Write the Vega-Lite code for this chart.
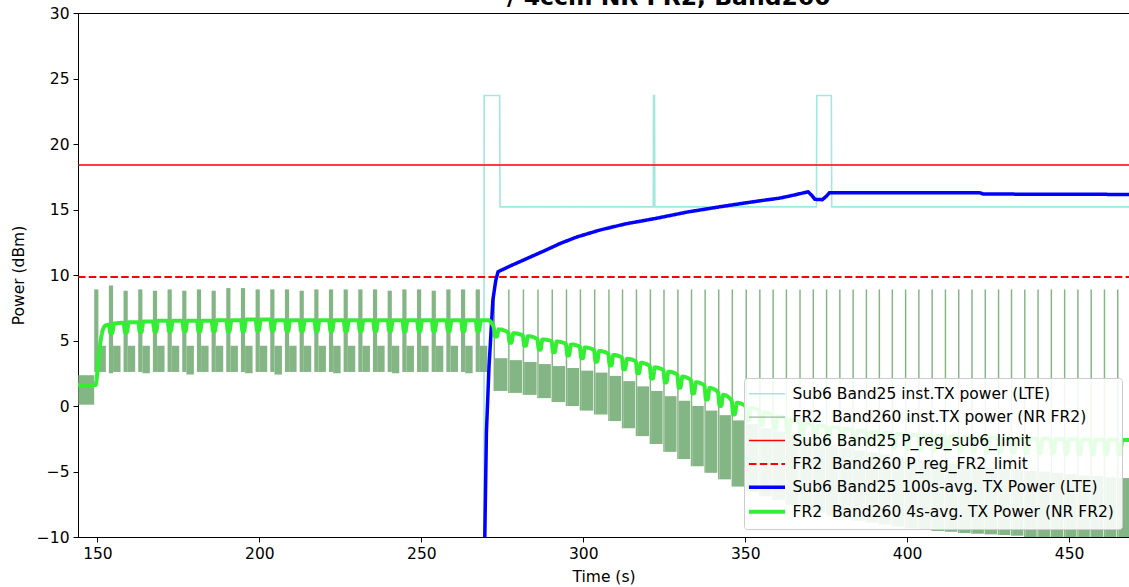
{
"$schema": "https://vega.github.io/schema/vega-lite/v6.json",
"width": 1051, "height": 524,
"autosize": {"type": "none"},
"padding": {"left": 78, "top": 13, "right": 0, "bottom": 50},
"title": {"text": "/ 4ccm NR FR2, Band260", "anchor": "start", "frame": "group", "dx": 429, "dy": 22.5, "fontSize": 23.5, "font": "DejaVu Sans", "fontWeight": "bold", "color": "#000000", "baseline": "alphabetic", "offset": 0},
"config": {
  "view": {"stroke": "#000000", "strokeWidth": 1},
  "axis": {"domainColor": "#000000", "tickColor": "#000000", "labelColor": "#000000", "titleColor": "#000000", "labelFont": "DejaVu Sans", "titleFont": "DejaVu Sans", "labelFontSize": 15.5, "titleFontSize": 15.5, "titleFontWeight": "normal", "tickSize": 5, "labelPadding": 4, "grid": false},
  "axisX": {"titlePadding": 8},
  "axisY": {"titlePadding": 10},
  "legend": {"orient": "none", "legendX": 666, "legendY": 365, "fillColor": "rgba(255,255,255,0.88)", "strokeColor": "#cccccc", "cornerRadius": 3, "padding": 8, "labelFont": "DejaVu Sans", "labelFontSize": 15.5, "labelColor": "#000000", "symbolSize": 256, "symbolType": "stroke", "labelOffset": 25, "rowPadding": 6.4, "labelLimit": 500}
},
"datasets": {
  "cyan": [{"t":144,"v":-40},{"t":269.3,"v":-40},{"t":269.4,"v":23.7},{"t":274.2,"v":23.7},{"t":274.3,"v":15.2},{"t":321.6,"v":15.2},{"t":321.7,"v":23.7},{"t":322.0,"v":23.7},{"t":322.1,"v":15.2},{"t":372.0,"v":15.2},{"t":372.1,"v":23.7},{"t":376.6,"v":23.7},{"t":376.7,"v":15.2},{"t":468.5,"v":15.2}],
  "red1": [{"t":144,"v":18.4},{"t":468.5,"v":18.4}],
  "red2": [{"t":144,"v":9.85},{"t":468.5,"v":9.85}],
  "blue": [{"t":269.4,"v":-40},{"t":269.6,"v":-10},{"t":270.1,"v":-2.0},{"t":270.9,"v":3.0},{"t":272.1,"v":8.1},{"t":273.0,"v":9.6},{"t":273.7,"v":10.25},{"t":278,"v":10.75},{"t":283,"v":11.3},{"t":288,"v":11.85},{"t":292.8,"v":12.4},{"t":298,"v":12.9},{"t":305.1,"v":13.43},{"t":313,"v":13.9},{"t":322.6,"v":14.33},{"t":332,"v":14.8},{"t":342,"v":15.2},{"t":350,"v":15.5},{"t":355,"v":15.68},{"t":360.7,"v":15.87},{"t":365,"v":16.1},{"t":369.4,"v":16.35},{"t":370.5,"v":16.1},{"t":371.5,"v":15.78},{"t":373.8,"v":15.75},{"t":375,"v":16.0},{"t":376,"v":16.28},{"t":422.4,"v":16.28},{"t":423.5,"v":16.18},{"t":468.5,"v":16.15}],
  "green": [
{"t":144,"v":1.6},{"t":149.4,"v":1.6},{"t":150.0,"v":2.6},{"t":150.6,"v":4.2},{"t":151.2,"v":5.3},{"t":151.8,"v":5.9},{"t":152.6,"v":6.15},
{"t":153.53,"v":6.2},{"t":154.03,"v":5.55},{"t":154.53,"v":5.55},{"t":155.13,"v":6.3},
{"t":158.06,"v":6.35},{"t":158.56,"v":5.6},{"t":159.06,"v":5.6},{"t":159.66,"v":6.4},
{"t":162.59,"v":6.4},{"t":163.09,"v":5.65},{"t":163.59,"v":5.65},{"t":164.19,"v":6.45},
{"t":167.12,"v":6.45},{"t":167.62,"v":5.68},{"t":168.12,"v":5.68},{"t":168.72,"v":6.5},
{"t":171.65,"v":6.5},{"t":172.15,"v":5.7},{"t":172.65,"v":5.7},{"t":173.25,"v":6.5},
{"t":176.18,"v":6.5},{"t":176.68,"v":5.7},{"t":177.18,"v":5.7},{"t":177.78,"v":6.5},
{"t":180.71,"v":6.5},{"t":181.21,"v":5.7},{"t":181.71,"v":5.7},{"t":182.31,"v":6.5},
{"t":185.24,"v":6.5},{"t":185.74,"v":5.7},{"t":186.24,"v":5.7},{"t":186.84,"v":6.55},
{"t":189.77,"v":6.55},{"t":190.27,"v":5.72},{"t":190.77,"v":5.72},{"t":191.37,"v":6.55},
{"t":194.3,"v":6.55},{"t":194.8,"v":5.72},{"t":195.3,"v":5.72},{"t":195.9,"v":6.6},
{"t":198.83,"v":6.6},{"t":199.33,"v":5.75},{"t":199.83,"v":5.75},{"t":200.43,"v":6.6},
{"t":203.36,"v":6.6},{"t":203.86,"v":5.75},{"t":204.36,"v":5.75},{"t":204.96,"v":6.55},
{"t":207.89,"v":6.55},{"t":208.39,"v":5.72},{"t":208.89,"v":5.72},{"t":209.49,"v":6.55},
{"t":212.42,"v":6.55},{"t":212.92,"v":5.72},{"t":213.42,"v":5.72},{"t":214.02,"v":6.55},
{"t":216.95,"v":6.55},{"t":217.45,"v":5.72},{"t":217.95,"v":5.72},{"t":218.55,"v":6.55},
{"t":221.48,"v":6.55},{"t":221.98,"v":5.72},{"t":222.48,"v":5.72},{"t":223.08,"v":6.55},
{"t":226.01,"v":6.55},{"t":226.51,"v":5.72},{"t":227.01,"v":5.72},{"t":227.61,"v":6.55},
{"t":230.54,"v":6.55},{"t":231.04,"v":5.72},{"t":231.54,"v":5.72},{"t":232.14,"v":6.55},
{"t":235.07,"v":6.55},{"t":235.57,"v":5.72},{"t":236.07,"v":5.72},{"t":236.67,"v":6.55},
{"t":239.6,"v":6.55},{"t":240.1,"v":5.72},{"t":240.6,"v":5.72},{"t":241.2,"v":6.55},
{"t":244.13,"v":6.55},{"t":244.63,"v":5.72},{"t":245.13,"v":5.72},{"t":245.73,"v":6.55},
{"t":248.66,"v":6.55},{"t":249.16,"v":5.72},{"t":249.66,"v":5.72},{"t":250.26,"v":6.55},
{"t":253.19,"v":6.55},{"t":253.69,"v":5.72},{"t":254.19,"v":5.72},{"t":254.79,"v":6.55},
{"t":257.72,"v":6.55},{"t":258.22,"v":5.72},{"t":258.72,"v":5.72},{"t":259.32,"v":6.55},
{"t":262.25,"v":6.55},{"t":262.75,"v":5.72},{"t":263.25,"v":5.72},{"t":263.85,"v":6.55},
{"t":266.78,"v":6.55},{"t":267.28,"v":5.72},{"t":267.78,"v":5.72},{"t":268.38,"v":6.55},
{"t":270.6,"v":6.55},
{"t":272.3,"v":6.05},{"t":272.8,"v":5.3},{"t":273.3,"v":5.3},{"t":273.9,"v":5.85},
{"t":276.8,"v":5.62},{"t":277.3,"v":4.82},{"t":277.8,"v":4.82},{"t":278.4,"v":5.55},
{"t":281.3,"v":5.4},{"t":281.8,"v":4.6},{"t":282.3,"v":4.6},{"t":282.9,"v":5.33},
{"t":285.8,"v":5.12},{"t":286.3,"v":4.3},{"t":286.8,"v":4.3},{"t":287.4,"v":5.08},
{"t":290.2,"v":4.96},{"t":290.7,"v":4.1},{"t":291.2,"v":4.1},{"t":291.8,"v":4.92},
{"t":294.6,"v":4.75},{"t":295.1,"v":3.85},{"t":295.6,"v":3.85},{"t":296.2,"v":4.7},
{"t":298.9,"v":4.54},{"t":299.4,"v":3.64},{"t":299.9,"v":3.64},{"t":300.5,"v":4.47},
{"t":303.3,"v":4.28},{"t":303.8,"v":3.38},{"t":304.3,"v":3.38},{"t":304.9,"v":4.2},
{"t":307.7,"v":4.0},{"t":308.2,"v":3.1},{"t":308.7,"v":3.1},{"t":309.3,"v":3.9},
{"t":311.9,"v":3.7},{"t":312.4,"v":2.8},{"t":312.9,"v":2.8},{"t":313.5,"v":3.6},
{"t":316.2,"v":3.42},{"t":316.7,"v":2.5},{"t":317.2,"v":2.5},{"t":317.8,"v":3.3},
{"t":320.5,"v":3.06},{"t":321.0,"v":2.1},{"t":321.5,"v":2.1},{"t":322.1,"v":2.95},
{"t":324.7,"v":2.74},{"t":325.2,"v":1.8},{"t":325.7,"v":1.8},{"t":326.3,"v":2.62},
{"t":329.0,"v":2.4},{"t":329.5,"v":1.4},{"t":330.0,"v":1.4},{"t":330.6,"v":2.25},
{"t":333.2,"v":1.98},{"t":333.7,"v":0.95},{"t":334.2,"v":0.95},{"t":334.8,"v":1.82},
{"t":337.4,"v":1.56},{"t":337.9,"v":0.5},{"t":338.4,"v":0.5},{"t":339.0,"v":1.38},
{"t":341.6,"v":1.06},{"t":342.1,"v":0.0},{"t":342.6,"v":0.0},{"t":343.2,"v":0.85},
{"t":345.8,"v":0.43},{"t":346.3,"v":-0.65},{"t":346.8,"v":-0.65},{"t":347.4,"v":0.25},
{"t":350.1,"v":-0.01},{"t":350.6,"v":-1.1},{"t":351.1,"v":-1.1},{"t":351.7,"v":-0.15},
{"t":354.3,"v":-0.35},{"t":354.8,"v":-1.45},{"t":355.3,"v":-1.45},{"t":355.9,"v":-0.48},
{"t":358.4,"v":-0.67},{"t":358.9,"v":-1.77},{"t":359.4,"v":-1.77},{"t":360.0,"v":-0.8},
{"t":362.5,"v":-0.95},{"t":363.0,"v":-2.05},{"t":363.5,"v":-2.05},{"t":364.1,"v":-1.05},
{"t":366.7,"v":-1.2},{"t":367.2,"v":-2.3},{"t":367.7,"v":-2.3},{"t":368.3,"v":-1.3},
{"t":370.8,"v":-1.43},{"t":371.3,"v":-2.53},{"t":371.8,"v":-2.53},{"t":372.4,"v":-1.5},
{"t":374.9,"v":-1.57},{"t":375.4,"v":-2.67},{"t":375.9,"v":-2.67},{"t":376.5,"v":-1.62},
{"t":379.0,"v":-1.7},{"t":379.5,"v":-2.8},{"t":380.0,"v":-2.8},{"t":380.6,"v":-1.74},
{"t":383.1,"v":-1.84},{"t":383.6,"v":-2.94},{"t":384.1,"v":-2.94},{"t":384.7,"v":-1.88},
{"t":387.2,"v":-1.95},{"t":387.7,"v":-3.05},{"t":388.2,"v":-3.05},{"t":388.8,"v":-1.98},
{"t":391.2,"v":-2.03},{"t":391.7,"v":-3.13},{"t":392.2,"v":-3.13},{"t":392.8,"v":-2.06},
{"t":395.2,"v":-2.11},{"t":395.7,"v":-3.2},{"t":396.2,"v":-3.2},{"t":396.8,"v":-2.14},
{"t":399.3,"v":-2.19},{"t":399.8,"v":-3.28},{"t":400.3,"v":-3.28},{"t":400.9,"v":-2.21},
{"t":403.4,"v":-2.23},{"t":403.9,"v":-3.33},{"t":404.4,"v":-3.33},{"t":405.0,"v":-2.25},
{"t":407.5,"v":-2.28},{"t":408.0,"v":-3.37},{"t":408.5,"v":-3.37},{"t":409.1,"v":-2.29},
{"t":411.6,"v":-2.32},{"t":412.1,"v":-3.42},{"t":412.6,"v":-3.42},{"t":413.2,"v":-2.33},
{"t":415.7,"v":-2.36},{"t":416.2,"v":-3.46},{"t":416.7,"v":-3.46},{"t":417.3,"v":-2.37},
{"t":419.8,"v":-2.4},{"t":420.3,"v":-3.5},{"t":420.8,"v":-3.5},{"t":421.4,"v":-2.4},
{"t":423.9,"v":-2.42},{"t":424.4,"v":-3.52},{"t":424.9,"v":-3.52},{"t":425.5,"v":-2.42},
{"t":428.0,"v":-2.44},{"t":428.5,"v":-3.54},{"t":429.0,"v":-3.54},{"t":429.6,"v":-2.44},
{"t":432.0,"v":-2.46},{"t":432.5,"v":-3.56},{"t":433.0,"v":-3.56},{"t":433.6,"v":-2.46},
{"t":436.1,"v":-2.48},{"t":436.6,"v":-3.58},{"t":437.1,"v":-3.58},{"t":437.7,"v":-2.48},
{"t":440.2,"v":-2.5},{"t":440.7,"v":-3.6},{"t":441.2,"v":-3.6},{"t":441.8,"v":-2.5},
{"t":444.3,"v":-2.52},{"t":444.8,"v":-3.62},{"t":445.3,"v":-3.62},{"t":445.9,"v":-2.52},
{"t":448.4,"v":-2.54},{"t":448.9,"v":-3.64},{"t":449.4,"v":-3.64},{"t":450.0,"v":-2.54},
{"t":452.5,"v":-2.56},{"t":453.0,"v":-3.66},{"t":453.5,"v":-3.66},{"t":454.1,"v":-2.56},
{"t":456.6,"v":-2.57},{"t":457.1,"v":-3.67},{"t":457.6,"v":-3.67},{"t":458.2,"v":-2.57},
{"t":460.7,"v":-2.58},{"t":461.2,"v":-3.68},{"t":461.7,"v":-3.68},{"t":462.3,"v":-2.58},
{"t":464.8,"v":-2.59},{"t":465.3,"v":-3.69},{"t":465.8,"v":-3.69},{"t":466.4,"v":-2.59},
{"t":468.5,"v":-2.6}],
  "grey": [
{"t":144.1,"t2":149.0,"lo":0.1,"hi":2.35},
{"t":149.0,"t2":150.3,"lo":2.6,"hi":8.9},{"t":150.3,"t2":152.6,"lo":2.6,"hi":4.6},
{"t":153.53,"t2":154.83,"lo":2.5,"hi":9.2},{"t":154.83,"t2":157.13,"lo":2.6,"hi":4.6},
{"t":158.06,"t2":159.36,"lo":2.6,"hi":8.8},{"t":159.36,"t2":161.66,"lo":2.6,"hi":4.6},
{"t":162.59,"t2":163.89,"lo":2.6,"hi":8.9},{"t":163.89,"t2":166.19,"lo":2.5,"hi":4.6},
{"t":167.12,"t2":168.42,"lo":2.6,"hi":8.8},{"t":168.42,"t2":170.72,"lo":2.6,"hi":4.6},
{"t":171.65,"t2":172.95,"lo":2.6,"hi":8.9},{"t":172.95,"t2":175.25,"lo":2.6,"hi":4.6},
{"t":176.18,"t2":177.48,"lo":2.6,"hi":8.8},{"t":177.48,"t2":179.78,"lo":2.4,"hi":4.6},
{"t":180.71,"t2":182.01,"lo":2.6,"hi":8.9},{"t":182.01,"t2":184.31,"lo":2.6,"hi":4.6},
{"t":185.24,"t2":186.54,"lo":2.6,"hi":8.8},{"t":186.54,"t2":188.84,"lo":2.6,"hi":4.6},
{"t":189.77,"t2":191.07,"lo":2.6,"hi":9.0},{"t":191.07,"t2":193.37,"lo":2.6,"hi":4.6},
{"t":194.3,"t2":195.6,"lo":2.6,"hi":9.0},{"t":195.6,"t2":197.9,"lo":2.5,"hi":4.6},
{"t":198.83,"t2":200.13,"lo":2.6,"hi":8.9},{"t":200.13,"t2":202.43,"lo":2.6,"hi":4.6},
{"t":203.36,"t2":204.66,"lo":2.6,"hi":8.9},{"t":204.66,"t2":206.96,"lo":2.4,"hi":4.6},
{"t":207.89,"t2":209.19,"lo":2.6,"hi":8.9},{"t":209.19,"t2":211.49,"lo":2.6,"hi":4.6},
{"t":212.42,"t2":213.72,"lo":2.6,"hi":8.8},{"t":213.72,"t2":216.02,"lo":2.6,"hi":4.6},
{"t":216.95,"t2":218.25,"lo":2.6,"hi":8.9},{"t":218.25,"t2":220.55,"lo":2.6,"hi":4.6},
{"t":221.48,"t2":222.78,"lo":2.6,"hi":8.9},{"t":222.78,"t2":225.08,"lo":2.5,"hi":4.6},
{"t":226.01,"t2":227.31,"lo":2.6,"hi":8.9},{"t":227.31,"t2":229.61,"lo":2.6,"hi":4.6},
{"t":230.54,"t2":231.84,"lo":2.6,"hi":8.9},{"t":231.84,"t2":234.14,"lo":2.6,"hi":4.6},
{"t":235.07,"t2":236.37,"lo":2.6,"hi":8.9},{"t":236.37,"t2":238.67,"lo":2.6,"hi":4.6},
{"t":239.6,"t2":240.9,"lo":2.6,"hi":8.8},{"t":240.9,"t2":243.2,"lo":2.5,"hi":4.6},
{"t":244.13,"t2":245.43,"lo":2.6,"hi":8.9},{"t":245.43,"t2":247.73,"lo":2.6,"hi":4.6},
{"t":248.66,"t2":249.96,"lo":2.6,"hi":8.9},{"t":249.96,"t2":252.26,"lo":2.6,"hi":4.6},
{"t":253.19,"t2":254.49,"lo":2.6,"hi":8.8},{"t":254.49,"t2":256.79,"lo":2.6,"hi":4.6},
{"t":257.72,"t2":259.02,"lo":2.6,"hi":8.9},{"t":259.02,"t2":261.32,"lo":2.6,"hi":4.6},
{"t":262.25,"t2":263.55,"lo":2.6,"hi":8.9},{"t":263.55,"t2":265.85,"lo":2.5,"hi":4.6},
{"t":266.78,"t2":268.08,"lo":2.6,"hi":8.9},{"t":268.08,"t2":270.38,"lo":2.6,"hi":4.6},
{"t":272.3,"t2":272.75,"lo":1.15,"hi":8.9},{"t":272.75,"t2":276.6,"lo":1.15,"hi":3.65},
{"t":276.8,"t2":277.25,"lo":1.0,"hi":8.9},{"t":277.25,"t2":281.1,"lo":1.0,"hi":3.5},
{"t":281.3,"t2":281.75,"lo":0.85,"hi":8.9},{"t":281.75,"t2":285.6,"lo":0.85,"hi":3.36},
{"t":285.8,"t2":286.25,"lo":0.6,"hi":8.9},{"t":286.25,"t2":290.0,"lo":0.6,"hi":3.2},
{"t":290.2,"t2":290.65,"lo":0.3,"hi":8.9},{"t":290.65,"t2":294.4,"lo":0.3,"hi":3.05},
{"t":294.6,"t2":295.05,"lo":0.0,"hi":8.9},{"t":295.05,"t2":298.7,"lo":0.0,"hi":2.9},
{"t":298.9,"t2":299.35,"lo":-0.35,"hi":8.9},{"t":299.35,"t2":303.1,"lo":-0.35,"hi":2.7},
{"t":303.3,"t2":303.75,"lo":-0.65,"hi":8.9},{"t":303.75,"t2":307.5,"lo":-0.65,"hi":2.55},
{"t":307.7,"t2":308.15,"lo":-1.15,"hi":8.9},{"t":308.15,"t2":311.7,"lo":-1.15,"hi":2.3},
{"t":311.9,"t2":312.35,"lo":-1.7,"hi":8.9},{"t":312.35,"t2":316.0,"lo":-1.7,"hi":1.9},
{"t":316.2,"t2":316.65,"lo":-2.3,"hi":8.9},{"t":316.65,"t2":320.3,"lo":-2.3,"hi":1.5},
{"t":320.5,"t2":320.95,"lo":-2.9,"hi":8.9},{"t":320.95,"t2":324.5,"lo":-2.9,"hi":1.15},
{"t":324.7,"t2":325.15,"lo":-3.5,"hi":8.9},{"t":325.15,"t2":328.8,"lo":-3.5,"hi":0.75},
{"t":329.0,"t2":329.45,"lo":-4.05,"hi":8.9},{"t":329.45,"t2":333.0,"lo":-4.05,"hi":0.4},
{"t":333.2,"t2":333.65,"lo":-4.6,"hi":8.9},{"t":333.65,"t2":337.2,"lo":-4.6,"hi":0.0},
{"t":337.4,"t2":337.85,"lo":-5.1,"hi":8.9},{"t":337.85,"t2":341.4,"lo":-5.1,"hi":-0.35},
{"t":341.6,"t2":342.05,"lo":-5.6,"hi":8.9},{"t":342.05,"t2":345.6,"lo":-5.6,"hi":-0.7},
{"t":345.8,"t2":346.25,"lo":-6.15,"hi":8.9},{"t":346.25,"t2":349.9,"lo":-6.15,"hi":-1.1},
{"t":350.1,"t2":350.55,"lo":-6.55,"hi":8.9},{"t":350.55,"t2":354.1,"lo":-6.55,"hi":-1.4},
{"t":354.3,"t2":354.75,"lo":-6.9,"hi":8.9},{"t":354.75,"t2":358.2,"lo":-6.9,"hi":-1.7},
{"t":358.4,"t2":358.85,"lo":-7.2,"hi":8.9},{"t":358.85,"t2":362.3,"lo":-7.2,"hi":-1.95},
{"t":362.5,"t2":362.95,"lo":-7.55,"hi":8.9},{"t":362.95,"t2":366.5,"lo":-7.55,"hi":-2.2},
{"t":366.7,"t2":367.15,"lo":-7.9,"hi":8.9},{"t":367.15,"t2":370.6,"lo":-7.9,"hi":-2.5},
{"t":370.8,"t2":371.25,"lo":-8.15,"hi":8.9},{"t":371.25,"t2":374.7,"lo":-8.15,"hi":-2.75},
{"t":374.9,"t2":375.35,"lo":-8.35,"hi":8.9},{"t":375.35,"t2":378.8,"lo":-8.35,"hi":-3.0},
{"t":379.0,"t2":379.45,"lo":-8.55,"hi":8.9},{"t":379.45,"t2":382.9,"lo":-8.55,"hi":-3.2},
{"t":383.1,"t2":383.55,"lo":-8.75,"hi":8.9},{"t":383.55,"t2":387.0,"lo":-8.75,"hi":-3.4},
{"t":387.2,"t2":387.65,"lo":-8.9,"hi":8.9},{"t":387.65,"t2":391.0,"lo":-8.9,"hi":-3.55},
{"t":391.2,"t2":391.65,"lo":-9.05,"hi":8.9},{"t":391.65,"t2":395.0,"lo":-9.05,"hi":-3.7},
{"t":395.2,"t2":395.65,"lo":-9.2,"hi":8.9},{"t":395.65,"t2":399.1,"lo":-9.2,"hi":-3.9},
{"t":399.3,"t2":399.75,"lo":-9.35,"hi":8.9},{"t":399.75,"t2":403.2,"lo":-9.35,"hi":-4.05},
{"t":403.4,"t2":403.85,"lo":-9.45,"hi":8.9},{"t":403.85,"t2":407.3,"lo":-9.45,"hi":-4.2},
{"t":407.5,"t2":407.95,"lo":-9.55,"hi":8.9},{"t":407.95,"t2":411.4,"lo":-9.55,"hi":-4.3},
{"t":411.6,"t2":412.05,"lo":-9.6,"hi":8.9},{"t":412.05,"t2":415.5,"lo":-9.6,"hi":-4.4},
{"t":415.7,"t2":416.15,"lo":-9.7,"hi":8.9},{"t":416.15,"t2":419.6,"lo":-9.7,"hi":-4.5},
{"t":419.8,"t2":420.25,"lo":-9.75,"hi":8.9},{"t":420.25,"t2":423.7,"lo":-9.75,"hi":-4.6},
{"t":423.9,"t2":424.35,"lo":-9.8,"hi":8.9},{"t":424.35,"t2":427.8,"lo":-9.8,"hi":-4.7},
{"t":428.0,"t2":428.45,"lo":-9.85,"hi":8.9},{"t":428.45,"t2":431.8,"lo":-9.85,"hi":-4.75},
{"t":432.0,"t2":432.45,"lo":-9.9,"hi":8.9},{"t":432.45,"t2":435.9,"lo":-9.9,"hi":-4.85},
{"t":436.1,"t2":436.55,"lo":-10.0,"hi":8.9},{"t":436.55,"t2":440.0,"lo":-10.0,"hi":-4.95},
{"t":440.2,"t2":440.65,"lo":-10.0,"hi":8.9},{"t":440.65,"t2":444.1,"lo":-10.0,"hi":-5.0},
{"t":444.3,"t2":444.75,"lo":-10.05,"hi":8.9},{"t":444.75,"t2":448.2,"lo":-10.05,"hi":-5.1},
{"t":448.4,"t2":448.85,"lo":-10.1,"hi":8.9},{"t":448.85,"t2":452.3,"lo":-10.1,"hi":-5.2},
{"t":452.5,"t2":452.95,"lo":-10.15,"hi":8.9},{"t":452.95,"t2":456.4,"lo":-10.15,"hi":-5.3},
{"t":456.6,"t2":457.05,"lo":-10.2,"hi":8.9},{"t":457.05,"t2":460.5,"lo":-10.2,"hi":-5.35},
{"t":460.7,"t2":461.15,"lo":-10.25,"hi":8.9},{"t":461.15,"t2":464.6,"lo":-10.25,"hi":-5.45},
{"t":464.8,"t2":465.25,"lo":-10.3,"hi":8.9},{"t":465.25,"t2":468.5,"lo":-10.3,"hi":-5.5}]
},
"layer": [
 {"data": {"name": "cyan"}, "mark": {"type": "line", "clip": true, "strokeWidth": 1.6},
  "encoding": {
   "x": {"field": "t", "type": "quantitative", "scale": {"domain": [144, 468.5], "nice": false, "zero": false}, "axis": {"values": [150,200,250,300,350,400,450], "title": "Time (s)"}},
   "y": {"field": "v", "type": "quantitative", "scale": {"domain": [-10, 30], "nice": false, "zero": false}, "axis": {"values": [-10,-5,0,5,10,15,20,25,30], "title": "Power (dBm)"}},
   "color": {"datum": "Sub6 Band25 inst.TX power (LTE)", "type": "nominal", "title": null,
     "scale": {"domain": ["Sub6 Band25 inst.TX power (LTE)", "FR2\u00a0 Band260 inst.TX power (NR FR2)", "Sub6 Band25 P_reg_sub6_limit", "FR2\u00a0 Band260 P_reg_FR2_limit", "Sub6 Band25 100s-avg. TX Power (LTE)", "FR2\u00a0 Band260 4s-avg. TX Power (NR FR2)"], "range": ["#a0e8e0", "#a0b8a0", "#ff0000", "#ff0000", "#0000ff", "#33ee33"]},
     "legend": {"encode": {"symbols": {"update": {"size": {"value": 1300}, "x": {"value": 15}, "strokeWidth": {"signal": "test(/100s-avg/, datum.value) ? 3.5 : test(/4s-avg/, datum.value) ? 4 : test(/FR2_limit/, datum.value) ? 2 : 1.4"}}}}}},
   "strokeDash": {"datum": "Sub6 Band25 inst.TX power (LTE)", "type": "nominal", "title": null,
     "scale": {"domain": ["Sub6 Band25 inst.TX power (LTE)", "FR2\u00a0 Band260 inst.TX power (NR FR2)", "Sub6 Band25 P_reg_sub6_limit", "FR2\u00a0 Band260 P_reg_FR2_limit", "Sub6 Band25 100s-avg. TX Power (LTE)", "FR2\u00a0 Band260 4s-avg. TX Power (NR FR2)"], "range": [[1,0],[1,0],[1,0],[7.5,3.3],[1,0],[1,0]]}}
  }},
 {"data": {"name": "grey"}, "mark": {"type": "rect", "color": "#84b584", "clip": true},
  "encoding": {
   "x": {"field": "t", "type": "quantitative", "scale": {"domain": [144, 468.5], "nice": false, "zero": false}, "axis": {"values": [150,200,250,300,350,400,450], "title": "Time (s)"}},
   "x2": {"field": "t2"},
   "y": {"field": "lo", "type": "quantitative", "scale": {"domain": [-10, 30], "nice": false, "zero": false}, "axis": {"values": [-10,-5,0,5,10,15,20,25,30], "title": "Power (dBm)"}},
   "y2": {"field": "hi"}
  }},
 {"data": {"name": "red1"}, "mark": {"type": "line", "clip": true, "strokeWidth": 1.4},
  "encoding": {
   "x": {"field": "t", "type": "quantitative", "scale": {"domain": [144, 468.5], "nice": false, "zero": false}, "axis": {"values": [150,200,250,300,350,400,450], "title": "Time (s)"}},
   "y": {"field": "v", "type": "quantitative", "scale": {"domain": [-10, 30], "nice": false, "zero": false}, "axis": {"values": [-10,-5,0,5,10,15,20,25,30], "title": "Power (dBm)"}},
   "color": {"datum": "Sub6 Band25 P_reg_sub6_limit", "type": "nominal", "title": null},
   "strokeDash": {"datum": "Sub6 Band25 P_reg_sub6_limit", "type": "nominal", "title": null}
  }},
 {"data": {"name": "red2"}, "mark": {"type": "line", "clip": true, "strokeWidth": 2},
  "encoding": {
   "x": {"field": "t", "type": "quantitative", "scale": {"domain": [144, 468.5], "nice": false, "zero": false}, "axis": {"values": [150,200,250,300,350,400,450], "title": "Time (s)"}},
   "y": {"field": "v", "type": "quantitative", "scale": {"domain": [-10, 30], "nice": false, "zero": false}, "axis": {"values": [-10,-5,0,5,10,15,20,25,30], "title": "Power (dBm)"}},
   "color": {"datum": "FR2\u00a0 Band260 P_reg_FR2_limit", "type": "nominal", "title": null},
   "strokeDash": {"datum": "FR2\u00a0 Band260 P_reg_FR2_limit", "type": "nominal", "title": null}
  }},
 {"data": {"name": "blue"}, "mark": {"type": "line", "clip": true, "strokeWidth": 3.5},
  "encoding": {
   "x": {"field": "t", "type": "quantitative", "scale": {"domain": [144, 468.5], "nice": false, "zero": false}, "axis": {"values": [150,200,250,300,350,400,450], "title": "Time (s)"}},
   "y": {"field": "v", "type": "quantitative", "scale": {"domain": [-10, 30], "nice": false, "zero": false}, "axis": {"values": [-10,-5,0,5,10,15,20,25,30], "title": "Power (dBm)"}},
   "color": {"datum": "Sub6 Band25 100s-avg. TX Power (LTE)", "type": "nominal", "title": null},
   "strokeDash": {"datum": "Sub6 Band25 100s-avg. TX Power (LTE)", "type": "nominal", "title": null}
  }},
 {"data": {"name": "green"}, "mark": {"type": "line", "clip": true, "interpolate": "monotone", "strokeWidth": 4},
  "encoding": {
   "x": {"field": "t", "type": "quantitative", "scale": {"domain": [144, 468.5], "nice": false, "zero": false}, "axis": {"values": [150,200,250,300,350,400,450], "title": "Time (s)"}},
   "y": {"field": "v", "type": "quantitative", "scale": {"domain": [-10, 30], "nice": false, "zero": false}, "axis": {"values": [-10,-5,0,5,10,15,20,25,30], "title": "Power (dBm)"}},
   "color": {"datum": "FR2\u00a0 Band260 4s-avg. TX Power (NR FR2)", "type": "nominal", "title": null},
   "strokeDash": {"datum": "FR2\u00a0 Band260 4s-avg. TX Power (NR FR2)", "type": "nominal", "title": null}
  }}
]
}
